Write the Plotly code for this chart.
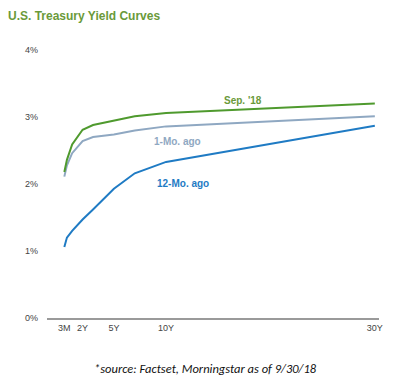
import plotly.graph_objects as go

maturity_labels = ["3M", "6M", "1Y", "2Y", "3Y", "5Y", "7Y", "10Y", "30Y"]
maturity_years = [0.25, 0.5, 1, 2, 3, 5, 7, 10, 30]

sep_18 = [2.18, 2.36, 2.59, 2.81, 2.88, 2.95, 3.01, 3.06, 3.20]
one_mo_ago = [2.11, 2.28, 2.46, 2.64, 2.70, 2.74, 2.80, 2.86, 3.01]
twelve_mo_ago = [1.06, 1.20, 1.30, 1.47, 1.62, 1.93, 2.16, 2.33, 2.87]

tick_years = [0.25, 2, 5, 10, 30]
tick_text = ["3M", "2Y", "5Y", "10Y", "30Y"]
y_ticks = [0, 1, 2, 3, 4]
y_tick_text = ["0%", "1%", "2%", "3%", "4%"]

GREEN = "#4f9a2e"
GREEN_TXT = "#6a9a3a"
GRAY = "#8fa8c2"
BLUE = "#1f7bc4"
FONT = "Arial, Liberation Sans, sans-serif"

fig = go.Figure()
fig.add_trace(go.Scatter(x=maturity_years, y=twelve_mo_ago, mode="lines",
                         line=dict(color=BLUE, width=2), name="12-Mo. ago"))
fig.add_trace(go.Scatter(x=maturity_years, y=one_mo_ago, mode="lines",
                         line=dict(color=GRAY, width=2), name="1-Mo. ago"))
fig.add_trace(go.Scatter(x=maturity_years, y=sep_18, mode="lines",
                         line=dict(color=GREEN, width=2), name="Sep. '18"))

fig.update_layout(
    width=397, height=382,
    margin=dict(l=47, r=18, t=50, b=64),
    paper_bgcolor="white", plot_bgcolor="white",
    showlegend=False,
    font=dict(family=FONT),
    title=dict(text="<b>U.S. Treasury Yield Curves</b>", x=8/397, xanchor="left",
               xref="container", y=1-16/382, yanchor="middle", yref="container",
               font=dict(size=12, color=GREEN_TXT, family=FONT)),
)
fig.update_xaxes(range=[-1.41, 30.4], tickvals=tick_years, ticktext=tick_text,
                 showgrid=False, zeroline=False, showline=True, linecolor="#9a9a9a",
                 linewidth=1.5, ticks="", tickfont=dict(size=9, color="#444"),
                 fixedrange=True)
fig.update_yaxes(range=[0, 4], tickvals=y_ticks, ticktext=y_tick_text,
                 showgrid=False, zeroline=False, showline=False, ticks="",
                 ticklabelstandoff=8, tickfont=dict(size=9, color="#444"),
                 fixedrange=True)

fig.add_annotation(x=17.4, y=3.25, text="<b>Sep. '18</b>", showarrow=False,
                   font=dict(size=10, color=GREEN_TXT, family=FONT))
fig.add_annotation(x=11.05, y=2.63, text="<b>1-Mo. ago</b>", showarrow=False,
                   font=dict(size=10, color=GRAY, family=FONT))
fig.add_annotation(x=11.6, y=2.01, text="<b>12-Mo. ago</b>", showarrow=False,
                   font=dict(size=10, color=BLUE, family=FONT))
fig.add_annotation(xref="paper", yref="paper", x=(205-47)/332, y=(318-368)/268,
                   text="<i>*source: Factset, Morningstar as of 9/30/18</i>",
                   showarrow=False, xanchor="center", yanchor="middle",
                   font=dict(size=12.5, color="#111", family="Carlito, Calibri, Liberation Sans, sans-serif"))

fig.write_html("out.html", config={"displayModeBar": False},
               post_script="document.body.style.margin='0';")
